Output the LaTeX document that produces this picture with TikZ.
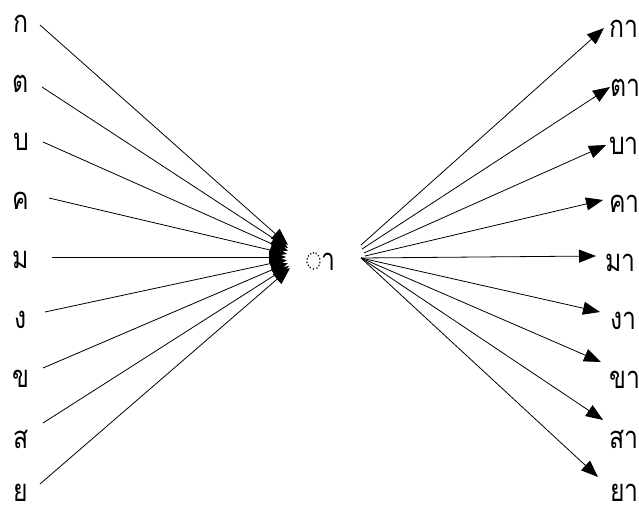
\documentclass[tikz,border=0pt]{standalone}
\usepackage{fontspec}
\newfontfamily\thaifont[Script=Thai,FakeStretch=0.8]{Loma}
\usetikzlibrary{arrows.meta}
\tikzset{
  lbl/.style={font=\thaifont\fontsize{31}{34}\selectfont, inner sep=0pt},
  conn/.style={line width=0.8pt, -{Triangle[length=17pt,width=13pt]}}
}
\begin{document}
\begin{tikzpicture}[x=1pt,y=-1pt]
\useasboundingbox (0,0) rectangle (639,508);
% left labels
\node[lbl] (l1) at (21,24) {ก};
\node[lbl] (l2) at (21,84) {ต};
\node[lbl] (l3) at (21,142) {บ};
\node[lbl] (l4) at (21,201) {ค};
\node[lbl] (l5) at (21,260) {ม};
\node[lbl] (l6) at (21,320) {ง};
\node[lbl] (l7) at (21,379) {ข};
\node[lbl] (l8) at (21,439) {ส};
\node[lbl] (l9) at (21,493) {ย};
% left start coordinates
\coordinate (s1) at (40,25);
\coordinate (s2) at (42,87);
\coordinate (s3) at (43,142);
\coordinate (s4) at (49,198);
\coordinate (s5) at (52,257);
\coordinate (s6) at (45,312);
\coordinate (s7) at (43,368);
\coordinate (s8) at (43,423);
\coordinate (s9) at (40,484);
% left tips
\coordinate (t1) at (288,245);
\coordinate (t2) at (288,248);
\coordinate (t3) at (288,251);
\coordinate (t4) at (287,254);
\coordinate (t5) at (286,257);
\coordinate (t6) at (287,260);
\coordinate (t7) at (288,263);
\coordinate (t8) at (289,266);
\coordinate (t9) at (290,268);
% center
\node[lbl] (c) at (321,261) {◌า};
% right starts
\coordinate (r1) at (361,245);
\coordinate (r2) at (362,249);
\coordinate (r3) at (364,253);
\coordinate (r4) at (365,256);
\coordinate (r5) at (361,258);
% right labels
\node[lbl, anchor=west] (p1) at (609,29) {กา};
\node[lbl, anchor=west] (p2) at (610,88) {ตา};
\node[lbl, anchor=west] (p3) at (609,146) {บา};
\node[lbl, anchor=west] (p4) at (609,204) {คา};
\node[lbl, anchor=west] (p5) at (605,263) {มา};
\node[lbl, anchor=west] (p6) at (610,321) {งา};
\node[lbl, anchor=west] (p7) at (609,380) {ขา};
\node[lbl, anchor=west] (p8) at (609,439) {สา};
\node[lbl, anchor=west] (p9) at (610,493) {ยา};
% right tips
\coordinate (e1) at (604,28);
\coordinate (e2) at (610,87);
\coordinate (e3) at (606,145);
\coordinate (e4) at (603,200);
\coordinate (e5) at (596,256);
\coordinate (e6) at (600,312);
\coordinate (e7) at (601,362);
\coordinate (e8) at (603,420);
\coordinate (e9) at (598,477);
% arrows
\foreach \i in {1,...,9} { \draw[conn] (s\i) -- (t\i); }
\draw[conn] (r1) -- (e1);
\draw[conn] (r2) -- (e2);
\draw[conn] (r3) -- (e3);
\draw[conn] (r4) -- (e4);
\foreach \i in {5,...,9} { \draw[conn] (r5) -- (e\i); }
\end{tikzpicture}
\end{document}
